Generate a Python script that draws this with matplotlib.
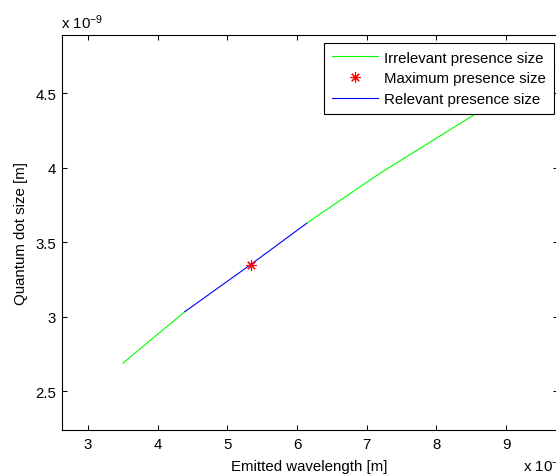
import numpy as np
import matplotlib
matplotlib.use("Agg")
import matplotlib.pyplot as plt

plt.rcParams['font.family'] = ['Liberation Sans', 'DejaVu Sans']
plt.rcParams['mathtext.fontset'] = 'custom'
plt.rcParams['mathtext.rm'] = 'Liberation Sans'
plt.rcParams['mathtext.default'] = 'regular'

# wavelength in units of 1e-7 m, dot size in units of 1e-9 m
wavelength = [3.50, 4.39, 5.334, 6.146, 7.19, 8.56, 9.70]
dot_size = [2.688, 3.034, 3.350, 3.630, 3.963, 4.361, 4.69]
rel_start = 1   # first point of the relevant range
rel_end = 3     # last point of the relevant range
peak = 2        # maximum presence size

xticks = [3, 4, 5, 6, 7, 8, 9]
yticks = [2.5, 3, 3.5, 4, 4.5]

W, H = 556, 477
fs = 10.8

fig = plt.figure(figsize=(W / 100, H / 100), dpi=100)
ax = fig.add_axes([61.7 / W, 1 - 431 / H, (558 - 61.7) / W, (431 - 36) / H])

wl = np.array(wavelength)
ds = np.array(dot_size)

ax.plot(wl[:rel_start + 1], ds[:rel_start + 1], color=(0, 1, 0), lw=0.8,
        label='Irrelevant presence size')
ax.plot(wl[peak], ds[peak], linestyle='none', marker=(8, 2, 0), ms=7.5,
        mec='red', mew=0.8, label='Maximum presence size', zorder=4)
ax.plot(wl[rel_start:rel_end + 1], ds[rel_start:rel_end + 1], color=(0, 0, 1),
        lw=0.8, label='Relevant presence size')
ax.plot(wl[rel_end:], ds[rel_end:], color=(0, 1, 0), lw=0.8)

ax.set_xlim(2.623, 9.745)
ax.set_ylim(2.240, 4.891)
ax.set_xticks(xticks)
ax.set_xticklabels([str(v) for v in xticks])
ax.set_yticks(yticks)
ax.set_yticklabels(['2.5', '3', '3.5', '4', '4.5'])
ax.tick_params(direction='in', length=3.8, width=0.75, top=True, right=True,
               labelsize=fs, colors='black')
ax.tick_params(axis='x', pad=5)
ax.tick_params(axis='y', pad=4)
for s in ax.spines.values():
    s.set_linewidth(0.8)

ax.set_xlabel('Emitted wavelength [m]', fontsize=fs)
ax.xaxis.set_label_coords(309 / W, 1 - 460 / H, transform=fig.transFigure)
ax.set_ylabel('Quantum dot size [m]', fontsize=fs)
ax.yaxis.set_label_coords(28 / W, 1 - 233.5 / H, transform=fig.transFigure)

fig.text(61 / W, 1 - 29 / H, r'x 10$^{-9}$', fontsize=fs, va='baseline')
fig.text(523 / W, 1 - 472 / H, r'x 10$^{-7}$', fontsize=fs, va='baseline')

leg = ax.legend(loc='upper left', bbox_to_anchor=(324.3 / W, 1 - 44 / H),
                bbox_transform=fig.transFigure, borderaxespad=0, fontsize=fs,
                fancybox=False, framealpha=1, edgecolor='black',
                handlelength=3.1, handletextpad=0.4, borderpad=0.5,
                labelspacing=0.45)
leg.get_frame().set_linewidth(0.8)

fig.savefig('out.png', dpi=100)
